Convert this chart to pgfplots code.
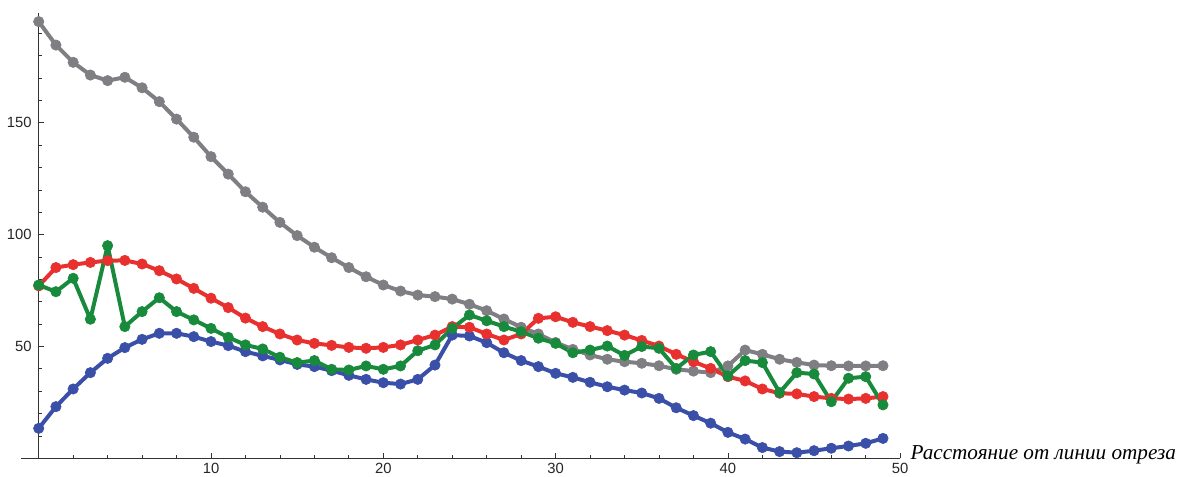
\documentclass[border=0pt]{standalone}
\usepackage{fontspec}
\setmainfont{Liberation Serif}
\newfontfamily\ticksfont{Liberation Sans}
\usepackage{pgfplots}
\pgfplotsset{compat=1.18}
\usepackage{pgfplotstable}
\definecolor{cgrey}{RGB}{126,126,131}
\definecolor{cred}{RGB}{232,49,47}
\definecolor{cgreen}{RGB}{24,138,60}
\definecolor{cblue}{RGB}{58,80,168}
\pgfplotstableread{
x y
0 195.3
1 184.8
2 177.1
3 171.4
4 168.9
5 170.4
6 165.7
7 159.5
8 151.7
9 143.6
10 134.9
11 127.1
12 119.2
13 112.3
14 105.5
15 99.6
16 94.4
17 89.7
18 85.3
19 81.2
20 77.5
21 74.8
22 73.0
23 72.3
24 71.2
25 68.9
26 66.0
27 62.3
28 58.6
29 55.6
30 51.8
31 48.7
32 46.2
33 44.3
34 43.2
35 42.5
36 41.4
37 39.8
38 39.0
39 38.3
40 41.3
41 48.4
42 46.5
43 44.3
44 42.9
45 41.7
46 41.4
47 41.3
48 41.3
49 41.4
}\greydata
\pgfplotstableread{
x y
0 77.1
1 85.3
2 86.6
3 87.6
4 88.4
5 88.5
6 86.9
7 83.9
8 80.2
9 76.0
10 71.6
11 67.4
12 62.7
13 58.9
14 55.6
15 52.9
16 51.4
17 50.5
18 49.6
19 49.2
20 49.6
21 50.7
22 52.9
23 55.1
24 58.9
25 58.6
26 55.6
27 52.9
28 55.6
29 62.6
30 63.3
31 60.8
32 58.9
33 57.1
34 55.1
35 52.7
36 50.2
37 46.5
38 43.2
39 40.2
40 36.5
41 34.6
42 31.0
43 29.1
44 28.8
45 27.6
46 26.8
47 26.5
48 26.8
49 27.6
}\reddata
\pgfplotstableread{
x y
0 77.5
1 74.5
2 80.5
3 62.2
4 95.1
5 58.9
6 65.6
7 71.8
8 65.6
9 61.9
10 58.1
11 54.1
12 50.7
13 48.9
14 45.2
15 42.8
16 43.7
17 39.8
18 39.5
19 41.3
20 39.8
21 41.3
22 48.1
23 50.7
24 58.1
25 64.1
26 61.5
27 58.9
28 56.6
29 53.7
30 51.4
31 47.2
32 48.4
33 50.2
34 46.0
35 50.0
36 49.2
37 40.2
38 46.2
39 47.7
40 36.8
41 43.7
42 42.8
43 29.4
44 38.3
45 37.7
46 25.3
47 35.8
48 36.5
49 23.9
}\greendata
\pgfplotstableread{
x y
0 13.4
1 23.1
2 31.0
3 38.3
4 44.7
5 49.5
6 53.2
7 55.9
8 55.9
9 54.4
10 52.2
11 50.4
12 47.7
13 45.8
14 44.0
15 42.0
16 41.0
17 39.2
18 37.1
19 35.3
20 33.8
21 33.2
22 35.3
23 41.7
24 55.1
25 54.7
26 51.7
27 47.2
28 43.7
29 41.0
30 38.0
31 36.2
32 34.0
33 32.0
34 30.5
35 29.2
36 26.8
37 22.6
38 19.1
39 15.7
40 11.6
41 8.6
42 4.8
43 3.0
44 2.5
45 3.4
46 4.5
47 5.5
48 6.7
49 8.9
}\bluedata
\begin{document}
\begin{tikzpicture}
\begin{axis}[
  x=8.615pt, y=1.118pt,
  axis lines=middle,
  axis line style={-, line width=0.5pt, black!80},
  xmin=-1, xmax=50, ymin=0, ymax=199,
  enlargelimits=false,
  clip=false,
  xtick={10,20,30,40,50},
  ytick={50,100,150},
  minor xtick={2,4,...,48},
  minor ytick={10,20,...,190},
  tick align=inside,
  major tick length=2.5pt,
  minor tick length=1.5pt,
  tick style={black!80, line width=0.4pt},
  tick label style={font=\ticksfont\fontsize{7.4}{8.5}\selectfont, black!85},
  xticklabel style={yshift=1.2pt},
  /pgf/number format/assume math mode=true,
  every axis plot/.append style={line width=2pt, line join=round, mark=*, mark size=2.6pt, mark options={solid, line width=0.3pt}},
]
\addplot[color=cgrey] table[x=x,y=y] {\greydata};
\addplot[color=cblue] table[x=x,y=y] {\bluedata};
\addplot[color=cred] table[x=x,y=y] {\reddata};
\addplot[color=cgreen] table[x=x,y=y] {\greendata};
\coordinate (o) at (axis cs:0,0);
\coordinate (xe) at (axis cs:50,0);
\end{axis}
\node[anchor=base west, font=\itshape\fontsize{10.6}{12}\selectfont, inner sep=0pt] at ([xshift=5pt,yshift=-0.5pt]xe) {Расстояние от линии отреза};
\pgfresetboundingbox
\useasboundingbox ([shift={(-19.35pt,-8.85pt)}]o) rectangle ([shift={(576.65pt,229.15pt)}]o);
\end{tikzpicture}
\end{document}
